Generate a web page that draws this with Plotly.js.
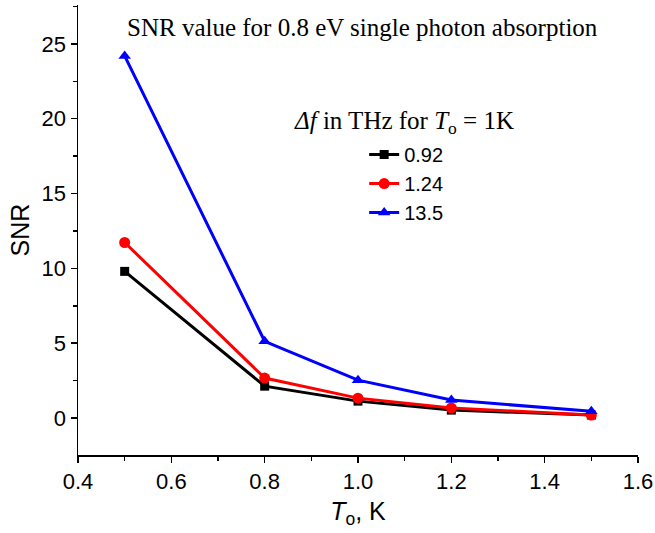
<!DOCTYPE html>
<html>
<head>
<meta charset="utf-8">
<script src="https://cdn.plot.ly/plotly-3.0.1.min.js"></script>
<style>html,body{margin:0;padding:0;background:#fff;}#chart{width:655px;height:533px;}</style>
</head>
<body>
<div id="chart"></div>
<script>
const temperatures = [0.5, 0.8, 1.0, 1.2, 1.5];
const snr092 = [9.8, 2.13, 1.13, 0.53, 0.2];
const snr124 = [11.73, 2.67, 1.33, 0.67, 0.2];
const snr135 = [24.2, 5.13, 2.53, 1.2, 0.45];
const seriesNames = ["0.92", "1.24", "13.5"];
const xTicks = [0.4, 0.6, 0.8, 1.0, 1.2, 1.4, 1.6];
const xTickLabels = ["0.4", "0.6", "0.8", "1.0", "1.2", "1.4", "1.6"];
const yTicks = [0, 5, 10, 15, 20, 25];

const sans = 'Arial, Liberation Sans, sans-serif';
const serif = 'Times New Roman, Liberation Serif, serif';

function trace(y, name, color, symbol) {
  return {
    x: temperatures, y: y, name: name, type: 'scatter', mode: 'lines+markers',
    line: {color: color, width: 3},
    marker: {color: color, symbol: symbol, size: symbol === 'square' ? 9 : 11}
  };
}

const data = [
  trace(snr092, seriesNames[0], '#000000', 'square'),
  trace(snr124, seriesNames[1], '#ff0000', 'circle'),
  trace(snr135, seriesNames[2], '#0000ff', 'triangle-up')
];

const axisCommon = {
  showline: true, linecolor: '#000', linewidth: 1.5,
  ticks: 'outside', ticklen: 6, tickwidth: 1.5, tickcolor: '#000',
  showgrid: false, zeroline: false, mirror: false,
  tickfont: {family: sans, size: 22, color: '#000'}
};

const layout = {
  width: 655, height: 533,
  margin: {l: 78, r: 17, t: 5, b: 78},
  paper_bgcolor: '#fff', plot_bgcolor: '#fff',
  showlegend: true,
  legend: {
    x: 0.511, y: 0.711, xanchor: 'left', yanchor: 'top',
    font: {family: sans, size: 20, color: '#000'},
    bgcolor: 'rgba(0,0,0,0)', tracegroupgap: 0
  },
  xaxis: Object.assign({}, axisCommon, {
    range: [0.4, 1.6], tickvals: xTicks, ticktext: xTickLabels,
    minor: {dtick: 0.1, ticks: 'outside', ticklen: 4, tickwidth: 1.5, tickcolor: '#000'},
    title: {text: '<i>T</i><sub>o</sub>, K', font: {family: sans, size: 25, color: '#000'}, standoff: 9}
  }),
  yaxis: Object.assign({}, axisCommon, {
    range: [-2.47, 27.6], tickvals: yTicks,
    minor: {dtick: 2.5, ticks: 'outside', ticklen: 4, tickwidth: 1.5, tickcolor: '#000'},
    title: {text: 'SNR', font: {family: sans, size: 25, color: '#000'}, standoff: 5}
  }),
  annotations: [
    {
      text: 'SNR value for 0.8 eV single photon absorption',
      xref: 'paper', yref: 'paper', x: 0.932, y: 0.949, xanchor: 'right', yanchor: 'middle',
      showarrow: false, font: {family: serif, size: 25, color: '#000'}
    },
    {
      text: '<i>Δf</i> in THz for <i>T</i><sub>o</sub> = 1K',
      xref: 'paper', yref: 'paper', x: 0.383, y: 0.738, xanchor: 'left', yanchor: 'middle',
      showarrow: false, font: {family: serif, size: 25, color: '#000'}
    }
  ]
};

Plotly.newPlot('chart', data, layout, {displayModeBar: false, staticPlot: true});
</script>
</body>
</html>
